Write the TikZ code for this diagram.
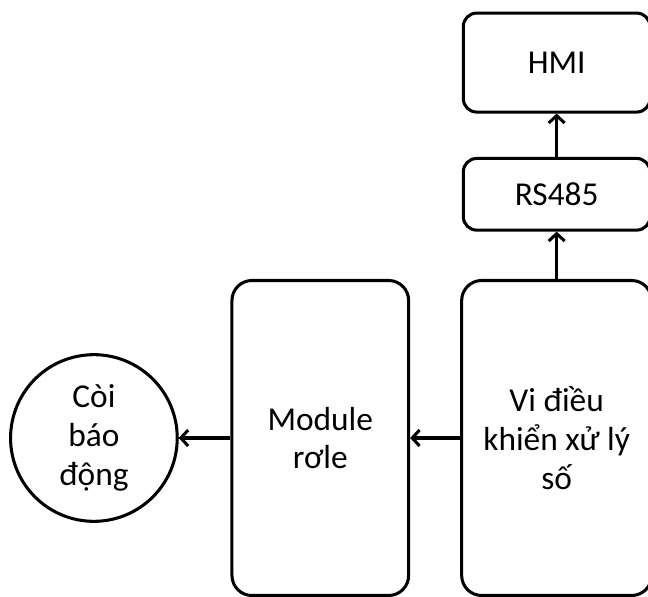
\documentclass[tikz,border=0pt]{standalone}
\usepackage{fontspec}
\setmainfont{Carlito}
\usepackage{tikz}
\usetikzlibrary{arrows.meta, positioning}

\begin{document}
\begin{tikzpicture}[
			block/.style={draw=black, line width=2.6pt, rounded corners=0.4cm, align=center, font=\fontsize{28.5}{33}\selectfont, inner sep=0pt},
			tall/.style={block, minimum height=9.45cm, rounded corners=0.6cm},
			wide/.style={block, minimum width=5.6cm},
			alarm/.style={circle, draw=black, line width=2.6pt, minimum size=5.0cm, align=center, font=\fontsize{28.5}{33}\selectfont, inner sep=0pt},
			link/.style={-{Straight Barb[length=2.2mm, width=4.8mm, line width=2.6pt]}, line width=2.6pt},
			node distance=1.5cm
			]
			\useasboundingbox (0,0) rectangle (19.44,-17.91);
			
			% ---------------- PROCESSING CHAIN ----------------
			\node[tall, minimum width=5.7cm] (mcu) at (16.7,-13.14) {Vi điều\\khiển xử lý\\số};
			\node[tall, minimum width=5.3cm, left=1.5cm of mcu] (relay) {Module\\rơle};
			\node[alarm, left=1.55cm of relay] (siren) {Còi\\báo\\động};
			
			% ---------------- COMMUNICATION ----------------
			\node[wide, minimum height=2.15cm, above=1.42cm of mcu] (rs) {RS485};
			\node[wide, minimum height=2.97cm, above=1.3cm of rs] (hmi) {HMI};
			
			\draw[link] (mcu) -- (relay);
			\draw[link] (relay) -- (siren);
			\draw[link] (mcu) -- (rs);
			\draw[link] (rs) -- (hmi);
			
		\end{tikzpicture}
\end{document}
